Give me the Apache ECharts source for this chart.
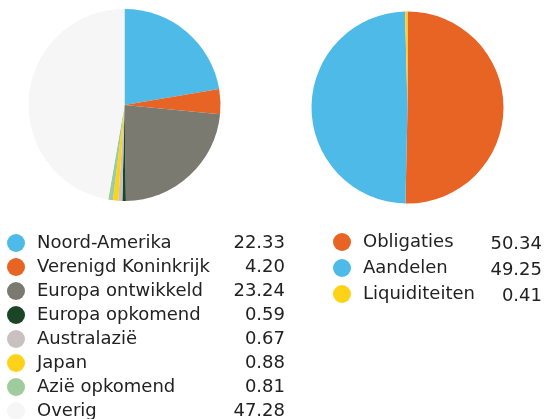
<!DOCTYPE html>
<html><head><meta charset="utf-8">
<script src="https://cdn.jsdelivr.net/npm/echarts@6/dist/echarts.min.js"></script>
<style>html,body{margin:0;padding:0;background:#fff}#c{width:551px;height:419px}</style>
</head><body><div id="c"></div>
<script>
const regionNames = ['Noord-Amerika','Verenigd Koninkrijk','Europa ontwikkeld','Europa opkomend','Australazië','Japan','Azië opkomend','Overig'];
const regionValues = [22.33, 4.20, 23.24, 0.59, 0.67, 0.88, 0.81, 47.28];
const regionColors = ['#4dbae8','#e86424','#7a7a70','#1b4527','#c9c0c1','#ffd21a','#9fcc9c','#f6f6f6'];
const assetNames = ['Obligaties','Aandelen','Liquiditeiten'];
const assetValues = [50.34, 49.25, 0.41];
const assetColors = ['#e86424','#4dbae8','#ffd21a'];

const fontFamily = 'DejaVu Sans';
const fs = 18;
function fmt(v){ return v.toFixed(2); }
const regionMap = {}; regionNames.forEach((n,i)=>regionMap[n]=regionValues[i]);
const assetMap = {}; assetNames.forEach((n,i)=>assetMap[n]=assetValues[i]);

const chart = echarts.init(document.getElementById('c'), null, {renderer:'canvas'});
chart.setOption({
  animation:false,
  backgroundColor:'#ffffff',
  legend:[{
    data: regionNames,
    orient:'vertical', left:7, top:234, height:200, padding:0,
    icon:'circle', itemWidth:18, itemHeight:18, itemGap:6,
    selectedMode:false,
    formatter: n => '{n|'+n+'}{v|'+fmt(regionMap[n])+'}',
    textStyle:{ fontFamily, fontSize:fs, color:'#222', padding:[0,0,0,7],
      rich:{ n:{width:188, fontFamily, fontSize:fs, color:'#222'}, v:{width:60, align:'right', fontFamily, fontSize:fs, color:'#222'} } }
  },{
    data: assetNames,
    orient:'vertical', left:333, top:233, height:100, padding:0,
    icon:'circle', itemWidth:18, itemHeight:18, itemGap:6,
    selectedMode:false,
    formatter: n => '{n|'+n+'}{v|'+fmt(assetMap[n])+'}',
    textStyle:{ fontFamily, fontSize:fs, color:'#222', padding:[0,0,0,7],
      rich:{ n:{width:119, fontFamily, fontSize:fs, color:'#222'}, v:{width:60, align:'right', fontFamily, fontSize:fs, color:'#222', padding:[4,0,0,0]} } }
  }],
  series:[{
    type:'pie', center:[124.5,105], radius:[0,96], startAngle:90, clockwise:true,
    label:{show:false}, labelLine:{show:false}, silent:true,
    itemStyle:{borderWidth:0},
    data: regionNames.map((n,i)=>({name:n, value:regionValues[i], itemStyle:{color:regionColors[i]}}))
  },{
    type:'pie', center:[407.5,107.5], radius:[0,96], startAngle:90, clockwise:true,
    label:{show:false}, labelLine:{show:false}, silent:true,
    itemStyle:{borderWidth:0},
    data: assetNames.map((n,i)=>({name:n, value:assetValues[i], itemStyle:{color:assetColors[i]}}))
  }]
});
</script></body></html>
